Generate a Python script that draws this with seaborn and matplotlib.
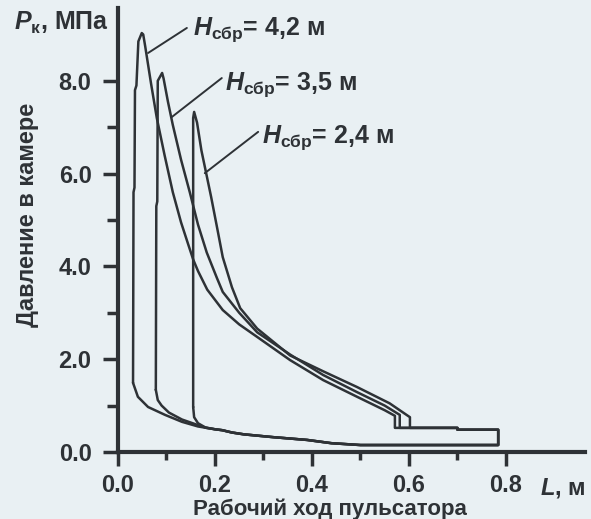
import matplotlib
matplotlib.use("Agg")
import matplotlib.pyplot as plt
import seaborn as sns
import pandas as pd

# --- data (L in m, P in MPa) ---
# H = 4,2 m
c1_rise_x = [0.031, 0.032, 0.034, 0.035, 0.038, 0.042, 0.049]
c1_rise_y = [1.49, 5.60, 5.70, 7.80, 7.90, 8.85, 9.03]
c1_fall_x = [0.052, 0.056, 0.068, 0.080, 0.096, 0.113, 0.130, 0.144, 0.155, 0.165, 0.184,
             0.216, 0.250, 0.287, 0.355, 0.423, 0.493, 0.550, 0.571, 0.571]
c1_fall_y = [9.00, 8.75, 7.95, 7.20, 6.40, 5.60, 4.95, 4.50, 4.15, 3.90, 3.50,
             3.06, 2.75, 2.48, 1.98, 1.55, 1.19, 0.90, 0.78, 0.52]
c1_low_x = [0.200, 0.165, 0.132, 0.097, 0.062, 0.041, 0.031]
c1_low_y = [0.49, 0.55, 0.65, 0.80, 0.97, 1.19, 1.49]

# H = 3,5 m
c2_rise_x = [0.078, 0.079, 0.081, 0.082, 0.091]
c2_rise_y = [1.34, 5.30, 5.40, 8.00, 8.17]
c2_fall_x = [0.094, 0.103, 0.113, 0.130, 0.148, 0.165, 0.183, 0.204, 0.216, 0.250,
             0.287, 0.355, 0.423, 0.493, 0.550, 0.581, 0.581]
c2_fall_y = [8.05, 7.55, 7.05, 6.30, 5.60, 4.90, 4.30, 3.75, 3.45, 3.00,
             2.58, 2.10, 1.66, 1.29, 1.00, 0.80, 0.52]
c2_low_x = [0.200, 0.182, 0.165, 0.132, 0.105, 0.090, 0.082, 0.078]
c2_low_y = [0.49, 0.52, 0.58, 0.70, 0.85, 1.00, 1.12, 1.34]

# H = 2,4 m
c3_rise_x = [0.155, 0.155, 0.157]
c3_rise_y = [0.97, 7.20, 7.33]
c3_fall_x = [0.163, 0.172, 0.182, 0.192, 0.205, 0.216, 0.235, 0.252, 0.287, 0.355,
             0.423, 0.493, 0.560, 0.602, 0.602]
c3_fall_y = [7.10, 6.50, 6.00, 5.50, 4.80, 4.20, 3.55, 3.10, 2.66, 2.08,
             1.74, 1.40, 1.05, 0.75, 0.52]
c3_low_x = [0.200, 0.180, 0.165, 0.157, 0.155]
c3_low_y = [0.49, 0.53, 0.62, 0.75, 0.97]

# common part of the cycle (discharge step and return stroke)
tail_x = [0.700, 0.700, 0.784, 0.784, 0.500, 0.440, 0.390, 0.320, 0.260, 0.235, 0.215]
tail_y = [0.52, 0.48, 0.48, 0.15, 0.15, 0.19, 0.26, 0.32, 0.38, 0.42, 0.47]

curve_names = ["4,2", "3,5", "2,4"]
label_pos = [(0.155, 8.99), (0.221, 7.80), (0.297, 6.66)]
leaders = [[(0.062, 8.60), (0.142, 9.14)],
           [(0.111, 7.22), (0.214, 8.06)],
           [(0.179, 6.01), (0.289, 6.90)]]

x_ticks = [0.0, 0.2, 0.4, 0.6, 0.8]
x_ticklabels = ["0.0", "0.2", "0.4", "0.6", "0.8"]
y_ticks = [0.0, 2.0, 4.0, 6.0, 8.0]
y_ticklabels = ["0.0", "2.0", "4.0", "6.0", "8.0"]

# build one table, one closed loop per H
parts = [(c1_rise_x, c1_rise_y, c1_fall_x, c1_fall_y, c1_low_x, c1_low_y),
         (c2_rise_x, c2_rise_y, c2_fall_x, c2_fall_y, c2_low_x, c2_low_y),
         (c3_rise_x, c3_rise_y, c3_fall_x, c3_fall_y, c3_low_x, c3_low_y)]
frames = []
for name, (rx, ry, fx, fy, lx, ly) in zip(curve_names, parts):
    xs = rx + fx + tail_x + lx
    ys = ry + fy + tail_y + ly
    frames.append(pd.DataFrame({"L": xs, "P": ys, "H": name}))
df = pd.concat(frames, ignore_index=True)

bg = "#e9f0f3"
ink = "#2e3236"

sns.set_style("ticks", {"axes.facecolor": bg, "figure.facecolor": bg})
plt.rcParams["font.family"] = ["Liberation Sans", "DejaVu Sans"]
plt.rcParams["font.weight"] = "bold"
plt.rcParams["mathtext.fontset"] = "custom"
plt.rcParams["mathtext.rm"] = "Liberation Sans:bold"
plt.rcParams["mathtext.it"] = "Liberation Sans:bold:italic"
plt.rcParams["mathtext.bf"] = "Liberation Sans:bold"

fig = plt.figure(figsize=(5.91, 5.19), dpi=100)
ax = fig.add_axes([118 / 591, 1 - 452 / 519, (585 - 118) / 591, (452 - 8) / 519])

sns.lineplot(data=df, x="L", y="P", units="H", estimator=None, sort=False,
             color=ink, lw=1.8, ax=ax, legend=False)

for (x0, y0), (x1, y1) in leaders:
    ax.plot([x0, x1], [y0, y1], color=ink, lw=1.4)
for name, (tx, ty) in zip(curve_names, label_pos):
    ax.text(tx, ty, r"$\mathit{H}_{\mathrm{сбр}}$= " + name + " м", fontsize=18,
            fontweight="bold", color=ink, ha="left", va="baseline")

ax.set_xlim(0, 0.963)
ax.set_ylim(0, 9.57)
sns.despine(ax=ax)
for s in ["left", "bottom"]:
    ax.spines[s].set_linewidth(3)
    ax.spines[s].set_color(ink)

ax.set_xticks(x_ticks)
ax.set_xticklabels(x_ticklabels)
ax.set_yticks(y_ticks)
ax.set_yticklabels(y_ticklabels)
ax.set_xticks([0.1, 0.3, 0.5, 0.7], minor=True)
ax.set_yticks([1, 3, 5, 7], minor=True)
ax.tick_params(axis="y", which="major", length=11, width=2.5, color=ink, pad=8,
               labelsize=17, labelcolor=ink)
ax.tick_params(axis="y", which="minor", length=8, width=2.5, color=ink)
ax.tick_params(axis="x", which="major", length=10, width=2.5, color=ink, pad=6,
               labelsize=17, labelcolor=ink)
ax.tick_params(axis="x", which="minor", length=6, width=2.5, color=ink)
for lab in ax.get_xticklabels() + ax.get_yticklabels():
    lab.set_fontweight("bold")
ax.set_xlabel("")
ax.set_ylabel("")

fig.text(330 / 591, 1 - 509 / 519, "Рабочий ход пульсатора", fontsize=16,
         fontweight="bold", color=ink, ha="center", va="center")
fig.text(28 / 591, 1 - 215 / 519, "Давление в камере", fontsize=17,
         fontweight="bold", color=ink, ha="center", va="center", rotation=90)
fig.text(14 / 591, 1 - 30 / 519, r"$\mathit{P}_{\mathrm{к}}$, МПа", fontsize=18,
         fontweight="bold", color=ink, ha="left", va="baseline")
fig.text(540 / 591, 1 - 494 / 519, r"$\mathit{L}$, м", fontsize=17,
         fontweight="bold", color=ink, ha="left", va="baseline")

fig.savefig("out.png", dpi=100, facecolor=bg)
